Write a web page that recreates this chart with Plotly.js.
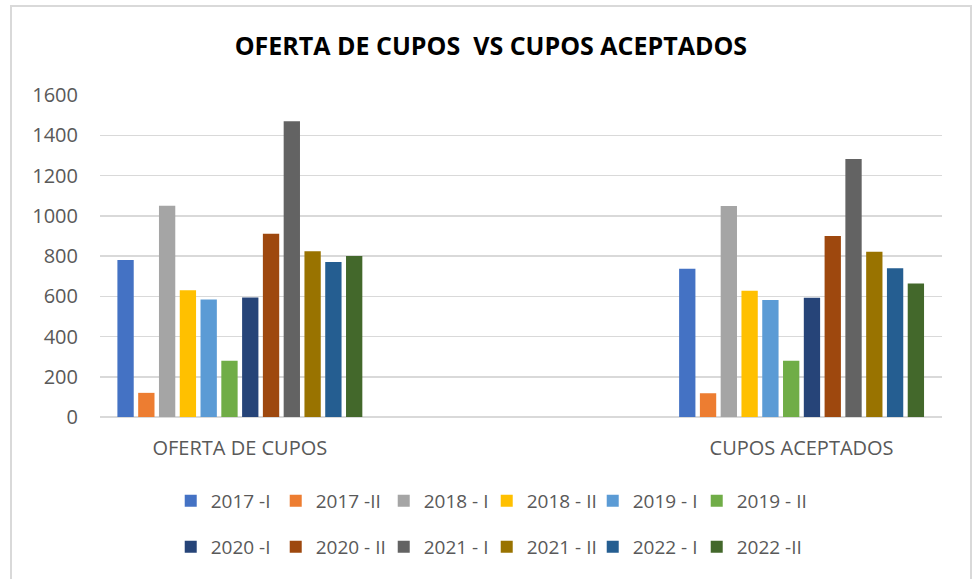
<!DOCTYPE html>
<html>
<head>
<meta charset="utf-8">
<script src="https://cdn.plot.ly/plotly-3.0.1.min.js"></script>
<style>html,body{margin:0;padding:0;background:#fff;}#chart{width:974px;height:579px;}</style>
</head>
<body>
<div id="chart"></div>
<script>
const categories = ["OFERTA DE CUPOS", "CUPOS ACEPTADOS"];
const seriesNames = ["2017 -I", "2017 -II", "2018 - I", "2018 - II", "2019 - I", "2019 - II",
                     "2020 -I", "2020 - II", "2021 - I", "2021 - II", "2022 - I", "2022 -II"];
const ofertaValues = [780, 120, 1050, 630, 584, 280, 594, 910, 1470, 823, 770, 800];
const aceptadosValues = [737, 118, 1049, 627, 581, 279, 593, 899, 1282, 821, 739, 663];
const seriesColors = ["#4472C4", "#ED7D31", "#A5A5A5", "#FFC000", "#5B9BD5", "#70AD47",
                      "#264478", "#9E480E", "#636363", "#997300", "#255E91", "#43682B"];

const textColor = "#595959";
const font = "Open Sans, Liberation Sans, sans-serif";
const legendEntryWidths = [60, 63, 58, 61, 59, 95];

const traces = seriesNames.map((name, i) => ({
  type: "bar",
  name: name,
  x: categories,
  y: [ofertaValues[i], aceptadosValues[i]],
  marker: {color: seriesColors[i]},
  legend: i < 6 ? "legend" : "legend2",
  legendwidth: legendEntryWidths[i % 6],
  hoverinfo: "name+y"
}));

const legendCommon = {
  orientation: "h",
  xanchor: "left",
  yanchor: "middle",
  entrywidthmode: "pixels",
  font: {family: font, size: 19, color: textColor},
  bgcolor: "rgba(0,0,0,0)",
  traceorder: "normal"
};

const layout = {
  width: 974,
  height: 579,
  margin: {l: 100, r: 32, t: 95, b: 162},
  paper_bgcolor: "#ffffff",
  plot_bgcolor: "#ffffff",
  title: {
    text: "<b>OFERTA DE CUPOS  VS CUPOS ACEPTADOS</b>",
    font: {family: font, size: 25, color: "#000000"},
    x: 0.504, xref: "container", xanchor: "center",
    y: 1 - 46 / 579, yref: "container", yanchor: "middle"
  },
  barmode: "group",
  bargap: 0.556,
  bargroupgap: 0.215,
  xaxis: {
    type: "category",
    range: [-0.249, 1.25],
    showgrid: false,
    showline: false,
    zeroline: false,
    ticks: "",
    ticklabelstandoff: 17,
    tickfont: {family: font, size: 20, color: textColor},
    fixedrange: true
  },
  yaxis: {
    range: [0, 1600],
    dtick: 200,
    tick0: 0,
    showgrid: true,
    gridcolor: "#d9d9d9",
    gridwidth: 1.5,
    zeroline: true,
    zerolinecolor: "#d9d9d9",
    zerolinewidth: 1.5,
    showline: false,
    ticks: "",
    ticklabelstandoff: 21,
    tickfont: {family: font, size: 20, color: textColor},
    fixedrange: true
  },
  legend: Object.assign({}, legendCommon, {x: 0.084, y: (417 - 501) / 322}),
  legend2: Object.assign({}, legendCommon, {x: 0.084, y: (417 - 547) / 322}),
  shapes: [{
    type: "rect", xref: "paper", yref: "paper",
    x0: (11 - 100) / 842, x1: (971 - 100) / 842,
    y0: (417 - 600) / 322, y1: (417 - 6) / 322,
    line: {color: "#d9d9d9", width: 2},
    fillcolor: "rgba(0,0,0,0)",
    layer: "below"
  }],
  showlegend: true
};

Plotly.newPlot("chart", traces, layout, {displayModeBar: false, staticPlot: true});
</script>
</body>
</html>
